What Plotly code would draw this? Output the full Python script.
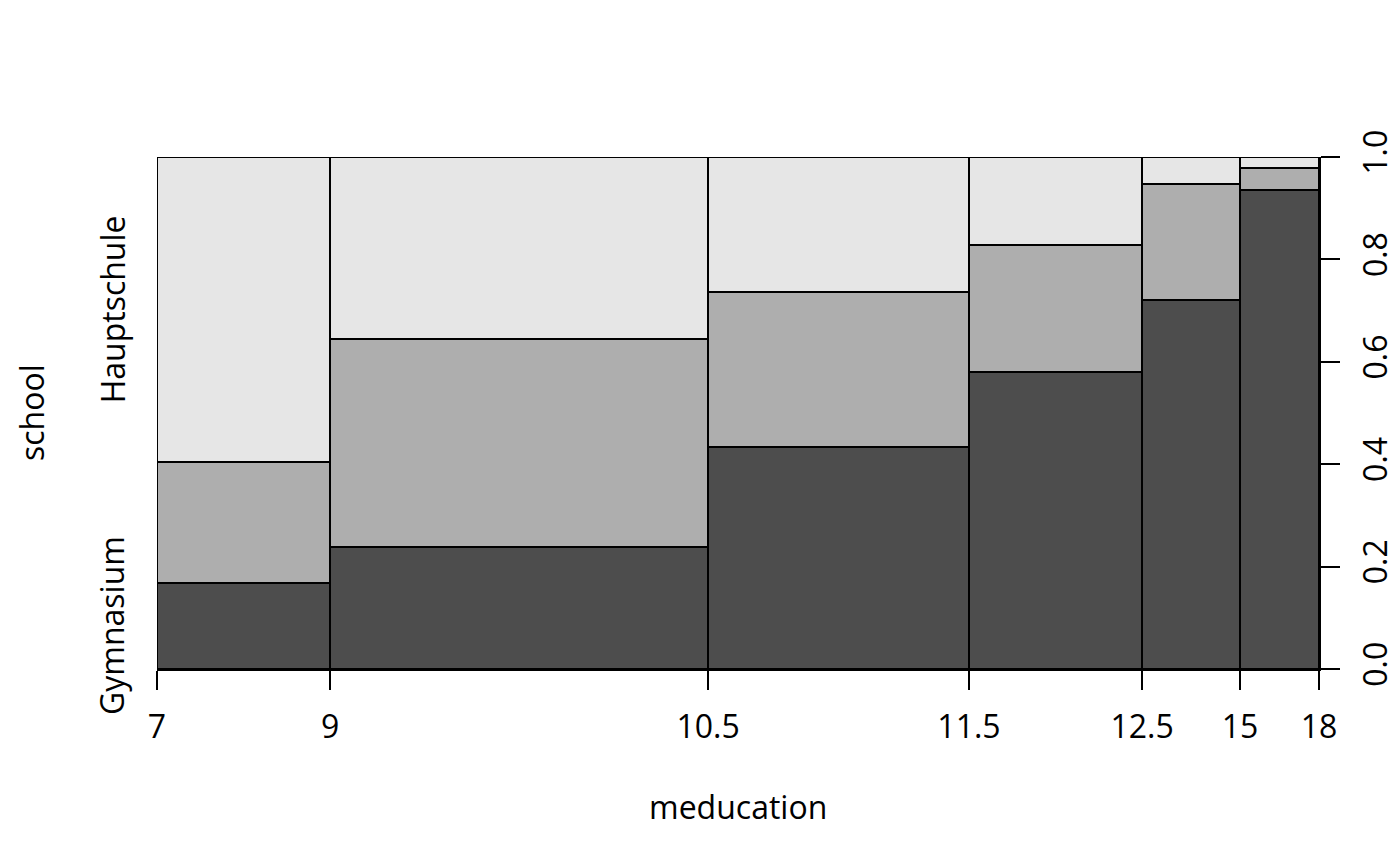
import numpy as np
import plotly.graph_objects as go

# Data read from the spineplot
bin_labels = ["7", "9", "10.5", "11.5", "12.5", "15", "18"]   # break labels
col_widths = [0.1489, 0.3253, 0.2246, 0.1489, 0.0843, 0.0680]  # share of observations per bin
gymnasium = [0.168, 0.238, 0.434, 0.580, 0.720, 0.935]
realschule = [0.237, 0.406, 0.302, 0.249, 0.228, 0.043]
hauptschule = [0.595, 0.356, 0.264, 0.171, 0.052, 0.022]
y_ticks = [0.0, 0.2, 0.4, 0.6, 0.8, 1.0]

series = [("Gymnasium", gymnasium, "#4D4D4D"),
          ("Realschule", realschule, "#AEAEAE"),
          ("Hauptschule", hauptschule, "#E6E6E6")]

edges = np.concatenate([[0.0], np.cumsum(col_widths)])
edges = edges / edges[-1]
widths = np.diff(edges)
centers = edges[:-1] + widths / 2

FONT = "Open Sans"
FS = 32

# page body has an 8px margin; figure occupies 8..1408 x 8..874
ML, MR, MT, MB = 149, 89, 149, 205

fig = go.Figure()
base = np.zeros(len(widths))
for name, vals, col in series:
    vals = np.array(vals)
    fig.add_trace(go.Bar(
        x=centers, y=vals, base=base, width=widths, name=name,
        marker=dict(color=col, line=dict(color="black", width=2)),
        showlegend=False,
    ))
    base = base + vals

fig.update_layout(
    width=1400, height=866,
    margin=dict(l=ML, r=MR, t=MT, b=MB),
    plot_bgcolor="white", paper_bgcolor="white",
    barmode="overlay", bargap=0,
    font=dict(family=FONT, size=FS, color="black"),
    xaxis=dict(range=[0, 1], tickvals=edges, ticktext=bin_labels,
               showgrid=False, zeroline=False, showline=True,
               linecolor="black", linewidth=2, ticks="outside",
               ticklen=19, tickwidth=2, tickcolor="black",
               ticklabelstandoff=10,
               tickfont=dict(size=FS, family=FONT)),
    yaxis=dict(range=[0, 1], side="right", tickvals=y_ticks,
               ticktext=[f"{v:.1f}" for v in y_ticks], tickangle=-90,
               showgrid=False, zeroline=False, showline=True,
               linecolor="black", linewidth=2, ticks="outside",
               ticklen=19, tickwidth=2, tickcolor="black",
               ticklabelstandoff=9,
               tickfont=dict(size=FS, family=FONT)),
)

plot_w = 1400 - ML - MR
plot_h = 866 - MT - MB
x0 = 157  # left edge of plotting area on the page

# left category labels at first-column segment midpoints
first = [gymnasium[0], realschule[0], hauptschule[0]]
cum = np.concatenate([[0.0], np.cumsum(first)])
mids = (cum[:-1] + cum[1:]) / 2
for name, m in [("Gymnasium", mids[0]), ("Hauptschule", mids[2])]:
    fig.add_annotation(text=name, xref="paper", yref="y",
                       x=(112 - x0) / plot_w, y=m, textangle=-90,
                       showarrow=False, xanchor="center", yanchor="middle",
                       font=dict(size=FS, family=FONT))

fig.add_annotation(text="school", xref="paper", yref="paper",
                   x=(31 - x0) / plot_w, y=0.5, textangle=-90,
                   showarrow=False, xanchor="center", yanchor="middle",
                   borderpad=0,
                   font=dict(size=FS, family=FONT))
fig.add_annotation(text="meducation", xref="paper", yref="paper",
                   x=0.5, y=-(806 - 669) / plot_h,
                   showarrow=False, xanchor="center", yanchor="middle",
                   font=dict(size=FS, family=FONT))

fig.write_html("out.html")
